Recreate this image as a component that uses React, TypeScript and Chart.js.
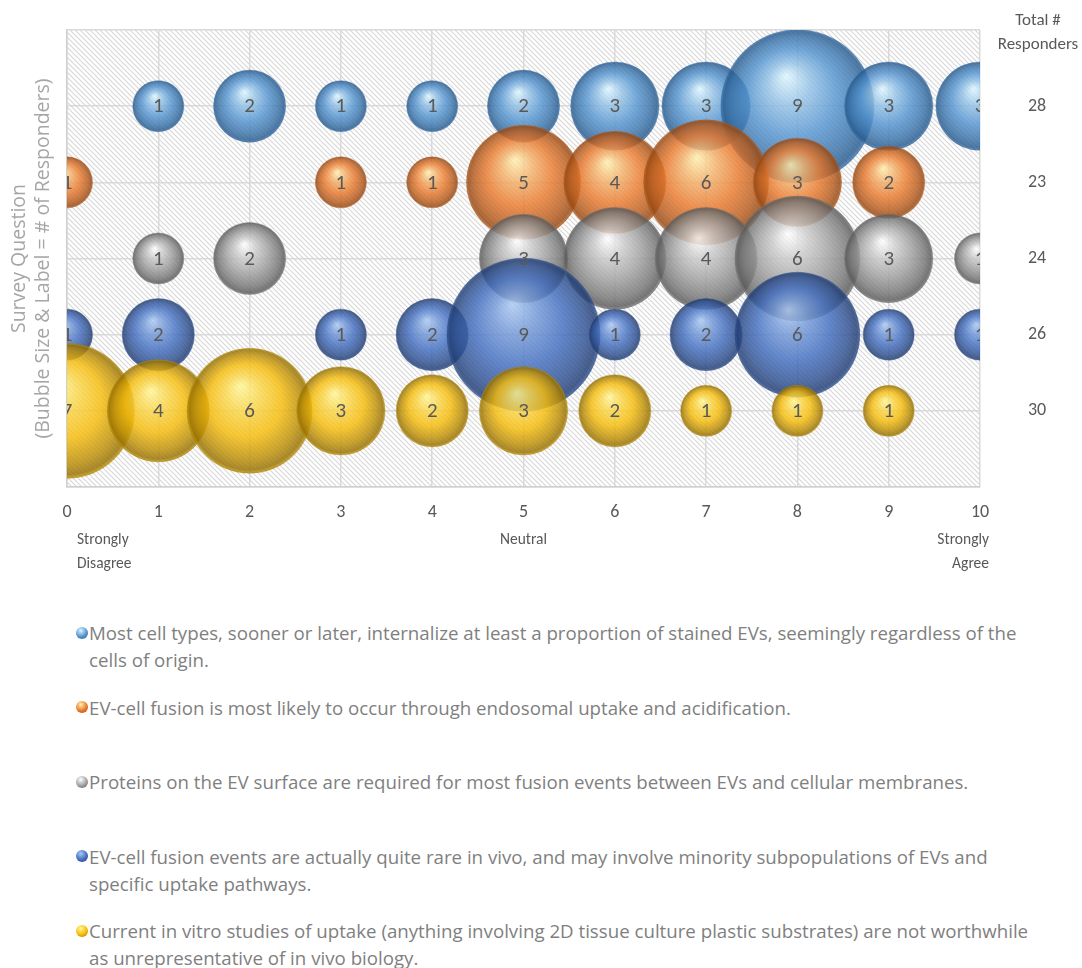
import {useEffect, useRef} from "react";
import {Chart, registerables, Plugin} from "chart.js";

Chart.register(...registerables);

// survey questions (one series per question)
const questions = [
  "Most cell types, sooner or later, internalize at least a proportion of stained EVs, seemingly regardless of the cells of origin.",
  "EV-cell fusion is most likely to occur through endosomal uptake and acidification.",
  "Proteins on the EV surface are required for most fusion events between EVs and cellular membranes.",
  "EV-cell fusion events are actually quite rare in vivo, and may involve minority subpopulations of EVs and specific uptake pathways.",
  "Current in vitro studies of uptake (anything involving 2D tissue culture plastic substrates) are not worthwhile as unrepresentative of in vivo biology.",
];

// agreement score 0..10
const scores = [0, 1, 2, 3, 4, 5, 6, 7, 8, 9, 10];

// number of responders per score (0 = no bubble)
const internalizeCounts = [0, 1, 2, 1, 1, 2, 3, 3, 9, 3, 3];
const endosomalCounts = [1, 0, 0, 1, 1, 5, 4, 6, 3, 2, 0];
const proteinsCounts = [0, 1, 2, 0, 0, 3, 4, 4, 6, 3, 1];
const rareCounts = [1, 2, 0, 1, 2, 9, 1, 2, 6, 1, 1];
const inVitroCounts = [7, 4, 6, 3, 2, 3, 2, 1, 1, 1, 0];

const allCounts = [internalizeCounts, endosomalCounts, proteinsCounts, rareCounts, inVitroCounts];

// row on the y axis for each question
const rows = [5, 4, 3, 2, 1];

const scaleNotes = ["Strongly\nDisagree", "Neutral", "Strongly\nAgree"];
const noteTicks = [0, 5, 10];

const FONT = "Carlito, Calibri, Lato, 'Noto Sans', sans-serif";
const WIDE_FONT = "'Open Sans', 'Noto Sans', sans-serif";
const TEXT = "#595959";

// highlight / body / rim colours of the 3D bubbles
const palettes = [
  {hi: [222, 246, 255], mid: [84, 148, 208], edge: [38, 90, 142]},
  {hi: [255, 240, 175], mid: [234, 122, 46], edge: [150, 72, 18]},
  {hi: [255, 255, 255], mid: [160, 160, 160], edge: [90, 90, 90]},
  {hi: [170, 200, 242], mid: [66, 110, 192], edge: [32, 60, 114]},
  {hi: [255, 246, 150], mid: [246, 188, 10], edge: [150, 112, 0]},
];

const ALPHA = 0.82;

const rgba = (c: number[], a = ALPHA) => `rgba(${c[0]}, ${c[1]}, ${c[2]}, ${a})`;
const mix = (a: number[], b: number[], t: number) => a.map((v, i) => Math.round(v + (b[i] - v) * t));

function makePattern(ctx: CanvasRenderingContext2D) {
  const tile = document.createElement("canvas");
  const s = 5;
  tile.width = s;
  tile.height = s;
  const t = tile.getContext("2d")!;
  t.fillStyle = "#ffffff";
  t.fillRect(0, 0, s, s);
  t.strokeStyle = "#d8d8d8";
  t.lineWidth = 1.2;
  t.beginPath();
  t.moveTo(-1, -1);
  t.lineTo(s + 1, s + 1);
  t.moveTo(-1, s - 1);
  t.lineTo(1, s + 1);
  t.moveTo(s - 1, -1);
  t.lineTo(s + 1, 1);
  t.stroke();
  return ctx.createPattern(tile, "repeat");
}

const hatchBackground: Plugin = {
  id: "hatchBackground",
  beforeDraw(chart) {
    const {ctx, chartArea} = chart;
    if (!chartArea) return;
    ctx.save();
    ctx.fillStyle = makePattern(ctx) || "#eeeeee";
    ctx.fillRect(chartArea.left, chartArea.top, chartArea.width, chartArea.height);
    ctx.restore();
  },
};

const bubbleLabels: Plugin = {
  id: "bubbleLabels",
  afterDatasetsDraw(chart) {
    const {ctx, chartArea} = chart;
    ctx.save();
    ctx.beginPath();
    ctx.rect(chartArea.left, chartArea.top, chartArea.width, chartArea.height);
    ctx.clip();
    ctx.font = `21px ${FONT}`;
    ctx.fillStyle = TEXT;
    ctx.textAlign = "center";
    ctx.textBaseline = "middle";
    chart.data.datasets.forEach((ds, i) => {
      const meta = chart.getDatasetMeta(i);
      meta.data.forEach((el, j) => {
        const raw = ds.data[j] as any;
        ctx.fillText(String(raw.count), el.x, el.y + 1);
      });
    });
    ctx.restore();
  },
};

const extraText: Plugin = {
  id: "extraText",
  afterDraw(chart) {
    const {ctx} = chart;
    const x = chart.scales.x;
    ctx.save();
    ctx.fillStyle = TEXT;
    ctx.textBaseline = "middle";

    // header of the totals column
    ctx.font = `17px ${FONT}`;
    ctx.textAlign = "center";
    ctx.fillText("Total #", 1038, 21);
    ctx.fillText("Responders", 1038, 45);

    // notes under the score axis
    ctx.font = `15.5px ${FONT}`;
    noteTicks.forEach((tick, i) => {
      const px = x.getPixelForValue(tick);
      const lines = scaleNotes[i].split("\n");
      let tx = px;
      if (i === 0) {
        ctx.textAlign = "left";
        tx = px + 10;
      } else if (i === noteTicks.length - 1) {
        ctx.textAlign = "right";
        tx = px + 9;
      } else {
        ctx.textAlign = "center";
      }
      lines.forEach((line, k) => ctx.fillText(line, tx, 540 + k * 24));
    });
    ctx.restore();
  },
};

function bubbleFill(c: any, p: (typeof palettes)[number]) {
  const chart = c.chart;
  const parsed = c.parsed;
  const raw = c.raw;
  if (!parsed || !raw || !chart.chartArea) return rgba(p.mid);
  const cx = chart.scales.x.getPixelForValue(parsed.x);
  const cy = chart.scales.y.getPixelForValue(parsed.y);
  const r = raw.r;
  const g = chart.ctx.createRadialGradient(cx - 0.15 * r, cy - 0.4 * r, 0, cx, cy, r);
  g.addColorStop(0, rgba(p.hi));
  g.addColorStop(0.28, rgba(mix(p.hi, p.mid, 0.55)));
  g.addColorStop(0.58, rgba(p.mid));
  g.addColorStop(0.84, rgba(mix(p.mid, p.edge, 0.6)));
  g.addColorStop(0.96, rgba(p.edge));
  g.addColorStop(1, rgba(mix(p.edge, p.mid, 0.5)));
  return g;
}

// remove the automatic label padding so the plot area sits where we want it
const fixSize = (w?: number, h?: number) => (scale: any) => {
  if (w !== undefined) scale.width = w;
  if (h !== undefined) scale.height = h;
  scale.paddingTop = 0;
  scale.paddingBottom = 0;
  scale.paddingLeft = 0;
  scale.paddingRight = 0;
};

export default function App() {
  const chartRef = useRef<HTMLCanvasElement>(null);

  useEffect(() => {
    if (!chartRef.current) return;

    const totals = allCounts.map(c => c.reduce((a, b) => a + b, 0));

    const datasets = allCounts.map((counts, i) => ({
      label: questions[i],
      data: scores
        .map((x, j) => ({x, y: rows[i], count: counts[j], r: 25.5 * Math.sqrt(counts[j])}))
        .filter(d => d.count > 0),
      backgroundColor: (c: any) => bubbleFill(c, palettes[i]),
      borderColor: rgba(palettes[i].edge, 0.45),
      borderWidth: 0.8,
      clip: 0,
      // later questions are drawn on top
      order: allCounts.length - i,
    }));

    const chart = new Chart(chartRef.current, {
      type: "bubble",
      data: {datasets: datasets as any},
      options: {
        responsive: true,
        maintainAspectRatio: false,
        animation: false,
        events: [],
        layout: {autoPadding: false, padding: {top: 30, left: 0, right: 0, bottom: 0}},
        plugins: {
          legend: {display: false},
          tooltip: {enabled: false},
        },
        scales: {
          x: {
            type: "linear",
            min: 0,
            max: 10,
            ticks: {stepSize: 1, color: TEXT, font: {family: FONT, size: 18}, padding: 15},
            grid: {color: "#d9d9d9", lineWidth: 1.5, drawTicks: false},
            border: {color: "#d0d0d0", width: 1.5},
            afterFit: fixSize(undefined, 113),
          },
          y: {
            type: "linear",
            position: "left",
            min: 0,
            max: 6,
            ticks: {stepSize: 1, display: false},
            grid: {color: "#d9d9d9", lineWidth: 1.5, drawTicks: false},
            border: {color: "#d0d0d0", width: 1.5},
            title: {
              display: true,
              text: ["Survey Question", "(Bubble Size & Label = # of Responders)"],
              color: "#a6a6a6",
              font: {family: WIDE_FONT, size: 19.5, lineHeight: 1.22},
              padding: {top: 8, bottom: 0},
            },
            afterFit: fixSize(67),
          },
          y2: {
            type: "linear",
            position: "right",
            min: 0,
            max: 6,
            ticks: {
              stepSize: 1,
              color: TEXT,
              font: {family: FONT, size: 18},
              padding: 48,
              callback: (value: any) => {
                const i = rows.indexOf(Number(value));
                return i >= 0 ? String(totals[i]) : "";
              },
            },
            grid: {display: false, drawTicks: false},
            border: {display: false},
            afterFit: fixSize(102),
          },
        },
      },
      plugins: [hatchBackground, bubbleLabels, extraText],
    });

    return () => {
      chart.destroy();
    };
  }, []);

  return (
    <div style={{position: "absolute", left: 0, top: 0, width: 1082, height: 968, background: "#ffffff"}}>
      <div style={{position: "absolute", left: 0, top: 0, width: 1082, height: 600}}>
        <canvas ref={chartRef} />
      </div>
      {questions.map((q, i) => {
        const p = palettes[i];
        return (
          <div
            key={i}
            style={{
              position: "absolute",
              left: 89,
              top: 619 + i * 74.5,
              width: 945,
              fontFamily: WIDE_FONT,
              fontSize: 18.7,
              lineHeight: "27px",
              color: "#7f7f7f",
            }}
          >
            <span
              style={{
                position: "absolute",
                left: -13,
                top: 7.5,
                width: 12,
                height: 12,
                borderRadius: "50%",
                background: `radial-gradient(circle at 40% 30%, ${rgba(p.hi, 1)} 0%, ${rgba(p.mid, 1)} 55%, ${rgba(
                  p.edge,
                  1,
                )} 100%)`,
              }}
            />
            {q}
          </div>
        );
      })}
    </div>
  );
}
